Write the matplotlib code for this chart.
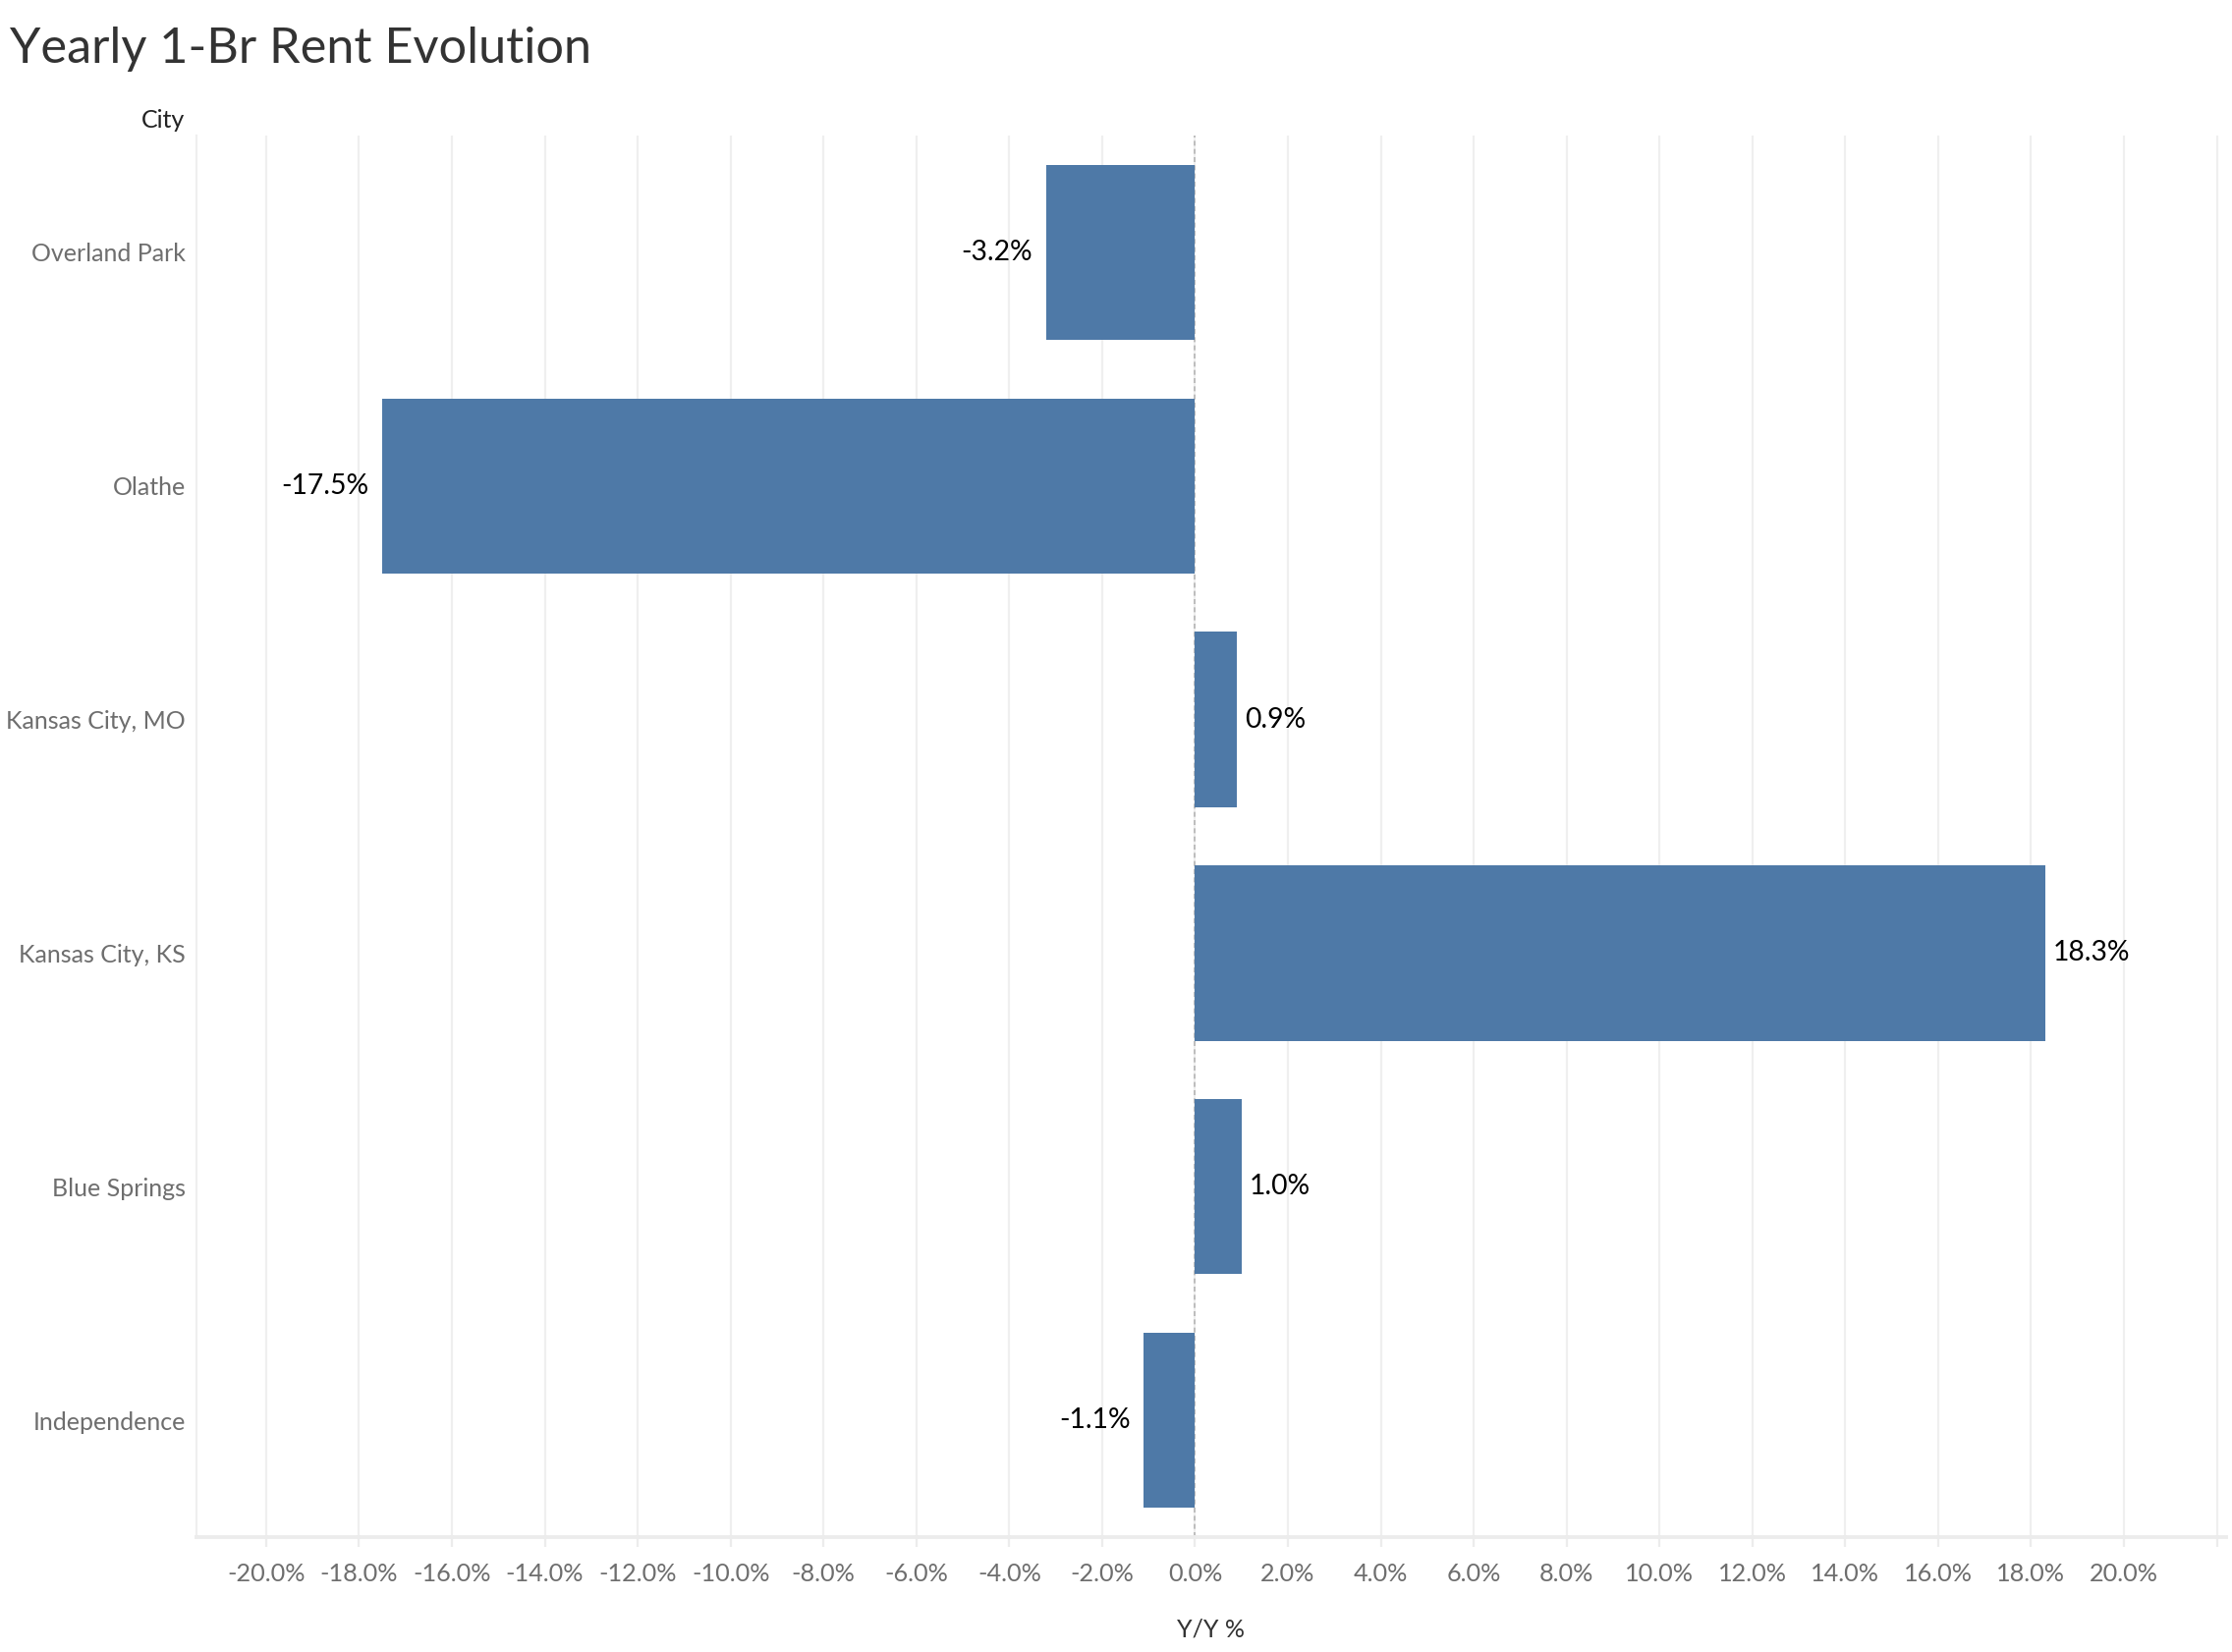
import matplotlib
matplotlib.use("Agg")
import matplotlib.pyplot as plt
from matplotlib.ticker import FixedLocator

plt.rcParams['font.family'] = ['Lato', 'DejaVu Sans']

cities = ["Overland Park", "Olathe", "Kansas City, MO", "Kansas City, KS",
          "Blue Springs", "Independence"]
yoy = [-3.2, -17.5, 0.9, 18.3, 1.0, -1.1]
tick_values = list(range(-20, 24, 2))
tick_labels = [f"{v:.1f}%" for v in range(-20, 22, 2)] + [""]

W, H, DPI = 2272, 1682, 200
fig = plt.figure(figsize=(W / DPI, H / DPI), dpi=DPI)
ax = fig.add_axes([200 / W, 1 - 1565 / H, (2266 - 200) / W, (1565 - 138) / H])

pos = list(range(len(cities)))
ax.barh(pos, yoy, height=0.75, color="#4e79a7", zorder=3)

for p, v in zip(pos, yoy):
    if v < 0:
        ax.annotate(f"{v:.1f}%", (v, p), xytext=(-5, 0), textcoords="offset points",
                    ha="right", va="center", fontsize=10.2, color="black", zorder=4)
    else:
        ax.annotate(f"{v:.1f}%", (v, p), xytext=(3, 0), textcoords="offset points",
                    ha="left", va="center", fontsize=10.2, color="black", zorder=4)

ax.set_ylim(len(cities) - 0.5, -0.5)
ax.set_xlim(-21.5, 22.2)
ax.set_yticks(pos)
ax.set_yticklabels(cities, fontsize=9, color="#6e6e6e")
ax.tick_params(axis="y", length=0, pad=4)

ax.xaxis.set_major_locator(FixedLocator(tick_values))
ax.set_xticklabels(tick_labels, fontsize=9.1, color="#6e6e6e")
ax.tick_params(axis="x", length=3.5, color="#ececec", width=0.8, pad=6)
ax.grid(axis="x", color="#efefef", linewidth=0.8, zorder=0)
ax.axvline(0, color="#b5b5b5", linewidth=0.6, linestyle=(0, (3, 2)), zorder=2)

for s in ["top", "right"]:
    ax.spines[s].set_visible(False)
ax.spines["left"].set_color("#efefef")
ax.spines["left"].set_linewidth(0.8)
ax.spines["bottom"].set_color("#ececec")
ax.spines["bottom"].set_linewidth(1.4)

ax.set_xlabel("Y/Y %", fontsize=9, color="#333333", labelpad=12)

fig.text(188 / W, 1 - 122 / H, "City", ha="right", va="center", fontsize=9, color="#222222")
fig.text(10 / W, 1 - 50 / H, "Yearly 1-Br Rent Evolution", ha="left", va="center",
         fontsize=18.2, color="#333333")

fig.savefig("out.png", dpi=DPI)
